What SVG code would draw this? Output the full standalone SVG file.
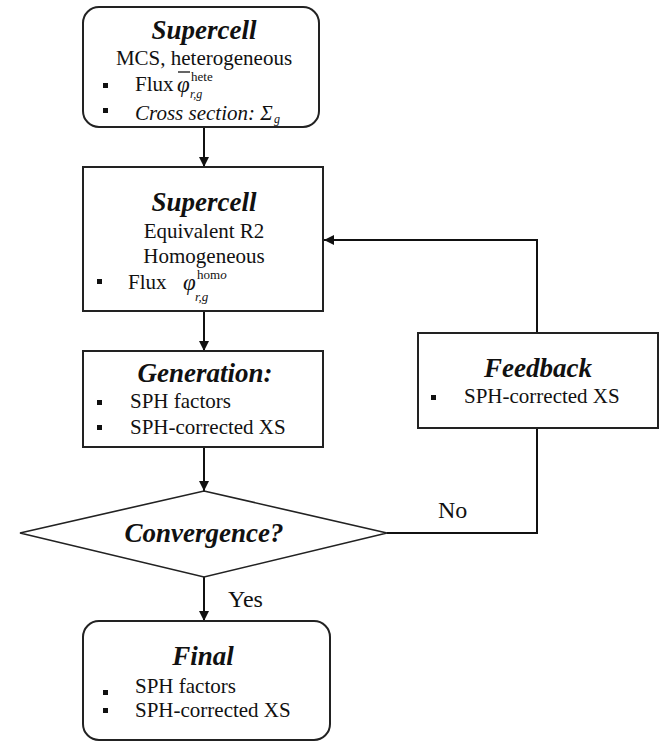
<svg xmlns="http://www.w3.org/2000/svg" width="666" height="742" viewBox="0 0 666 742">
<defs>
<marker id="arr" viewBox="0 0 10 10" refX="10" refY="5" markerWidth="10" markerHeight="10" markerUnits="userSpaceOnUse" orient="auto">
<path d="M0,0 L10,5 L0,10 z" fill="#111"/>
</marker>
<style>
text{font-family:'Liberation Serif','Times New Roman','DejaVu Serif',serif;fill:#111}
.box{fill:#fff;stroke:#222;stroke-width:2}
.dia{fill:#fff;stroke:#222;stroke-width:1.6}
.ttl{font-weight:bold;font-style:italic;font-size:27px;text-anchor:middle}
.txt{font-size:21px}
.it{font-style:italic}
.sm{font-size:13px}
.bul{fill:#111}
.con{fill:none;stroke:#111;stroke-width:2}
</style>
</defs>
<rect width="666" height="742" fill="#fff"/>

<g id="connectors">
<path class="con" d="M204,127 V167" marker-end="url(#arr)"/>
<path class="con" d="M204,311 V351" marker-end="url(#arr)"/>
<path class="con" d="M204,447 V491" marker-end="url(#arr)"/>
<path class="con" d="M204,577 V621" marker-end="url(#arr)"/>
<path class="con" d="M387,533 H537 V428"/>
<path class="con" d="M537,333 V240 H324" marker-end="url(#arr)"/>
<text class="txt" x="438" y="518" style="font-size:24px">No</text>
<text class="txt" x="228" y="607" style="font-size:24px">Yes</text>
</g>

<g id="supercell-mcs">
<rect class="box" x="83" y="7" width="236" height="120" rx="16"/>
<text class="ttl" x="204" y="39">Supercell</text>
<text class="txt" x="204" y="65" text-anchor="middle">MCS, heterogeneous</text>
<rect class="bul" x="103" y="83" width="5" height="5"/>
<text class="txt" x="135" y="91">Flux</text>
<text class="txt it" x="177" y="92" style="font-size:23px">φ</text>
<path d="M178,72 H190" stroke="#111" stroke-width="1.3"/>
<text class="sm" x="191" y="81">hete</text>
<text class="sm it" x="190" y="98" style="font-size:12px">r,g</text>
<rect class="bul" x="103" y="108" width="5" height="5"/>
<text class="txt it" x="135" y="120">Cross section: Σ</text>
<text class="sm it" x="274" y="123" style="font-size:12px">g</text>
</g>

<g id="supercell-r2">
<rect class="box" x="83" y="167" width="240" height="144"/>
<text class="ttl" x="204" y="211">Supercell</text>
<text class="txt" x="204" y="238" text-anchor="middle">Equivalent R2</text>
<text class="txt" x="204" y="263" text-anchor="middle">Homogeneous</text>
<rect class="bul" x="97" y="279" width="5" height="5"/>
<text class="txt" x="128" y="289">Flux</text>
<text class="txt it" x="183" y="290" style="font-size:23px">φ</text>
<text class="sm" x="197" y="279">hom<tspan class="it">o</tspan></text>
<text class="sm it" x="195" y="301">r,g</text>
</g>

<g id="generation">
<rect class="box" x="83" y="351" width="240" height="96"/>
<text class="ttl" x="205" y="382">Generation:</text>
<rect class="bul" x="97" y="400" width="5" height="5"/>
<text class="txt" x="130" y="408">SPH factors</text>
<rect class="bul" x="97" y="425" width="5" height="5"/>
<text class="txt" x="130" y="434">SPH-corrected XS</text>
</g>

<g id="feedback">
<rect class="box" x="418" y="333" width="240" height="95"/>
<text class="ttl" x="538" y="377">Feedback</text>
<rect class="bul" x="431" y="395" width="5" height="5"/>
<text class="txt" x="464" y="403">SPH-corrected XS</text>
</g>

<g id="convergence">
<polygon class="dia" points="204,491 387,533 204,577 20,533"/>
<text class="ttl" x="204" y="542">Convergence?</text>
</g>

<g id="final">
<rect class="box" x="83" y="621" width="247" height="119" rx="16"/>
<text class="ttl" x="203" y="665">Final</text>
<rect class="bul" x="103" y="690" width="5" height="5"/>
<text class="txt" x="135" y="693">SPH factors</text>
<rect class="bul" x="103" y="708" width="5" height="5"/>
<text class="txt" x="135" y="717">SPH-corrected XS</text>
</g>
</svg>
